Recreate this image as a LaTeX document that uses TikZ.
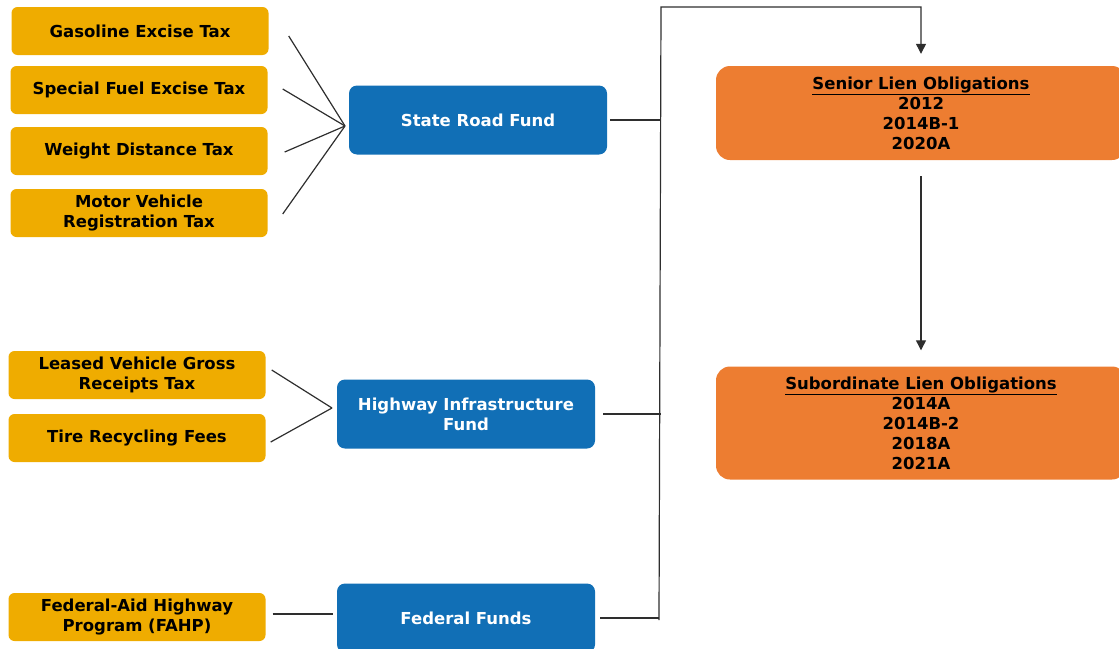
\documentclass[tikz,border=0pt]{standalone}
\usepackage{fontspec}
\setmainfont{DejaVu Sans}
\usetikzlibrary{arrows.meta,positioning}
\definecolor{taxgold}{HTML}{EFAC00}
\definecolor{fundblue}{HTML}{116FB6}
\definecolor{lienorange}{HTML}{ED7D31}
\definecolor{linegray}{HTML}{2E2E2E}

\begin{document}
\begin{tikzpicture}[x=1pt,y=-1pt,
			tax/.style={fill=taxgold,rounded corners=6pt,minimum width=257pt,minimum height=48pt,inner sep=0pt,align=center,font=\bfseries\fontsize{16.5}{20}\selectfont},
			fund/.style={fill=fundblue,rounded corners=8pt,minimum width=258pt,minimum height=69pt,inner sep=0pt,align=center,text=white,font=\bfseries\fontsize{16.5}{20}\selectfont},
			lien/.style={fill=lienorange,rounded corners=14pt,minimum width=410pt,inner sep=0pt,align=center,font=\bfseries\fontsize{16.5}{20}\selectfont},
			conn/.style={linegray,line width=1.2pt},
			arr/.style={conn,-{Triangle[length=10pt,width=10pt]}}
			]
			\useasboundingbox (0,0) rectangle (1119,648);
			\clip (0,0) rectangle (1119,648);
			% revenue sources
			\node[tax] (tax1) at (140,31) {Gasoline Excise Tax};
			\node[tax] (tax2) at (139,90) {Special Fuel Excise Tax};
			\node[tax] (tax3) at (139,151) {Weight Distance Tax};
			\node[tax] (tax4) at (139,213) {Motor Vehicle\\ Registration Tax};
			\node[tax] (tax5) at (137,375) {Leased Vehicle Gross\\ Receipts Tax};
			\node[tax] (tax6) at (137,438) {Tire Recycling Fees};
			\node[tax] (tax7) at (137,617) {Federal-Aid Highway\\ Program (FAHP)};
			% funds
			\node[fund] (srf) at (478,120) {State Road Fund};
			\node[fund] (hif) at (466,414) {Highway Infrastructure\\ Fund};
			\node[fund] (ff) at (466,618) {Federal Funds};
			% obligations
			\node[lien,minimum height=94pt] (senior) at (921,113) {\underline{Senior Lien Obligations}\\ 2012\\ 2014B-1\\ 2020A};
			\node[lien,minimum height=113pt] (sub) at (921,423) {\underline{Subordinate Lien Obligations}\\ 2014A\\ 2014B-2\\ 2018A\\ 2021A};
			% fan-in points and bus
			\coordinate (jsrf) at (345,126);
			\coordinate (jhif) at (332,408);
			\coordinate (bustop) at (661,7);
			\coordinate (busbot) at (659,620);
			\draw[conn] ([xshift=20pt,yshift=-5pt]tax1.east) -- (jsrf);
			\draw[conn] ([xshift=15pt,yshift=1pt]tax2.east) -- (jsrf);
			\draw[conn] ([xshift=17pt,yshift=-1pt]tax3.east) -- (jsrf);
			\draw[conn] ([xshift=15pt,yshift=-1pt]tax4.east) -- (jsrf);
			\draw[conn] ([xshift=6pt,yshift=5pt]tax5.east) -- (jhif);
			\draw[conn] ([xshift=5pt,yshift=-4pt]tax6.east) -- (jhif);
			\draw[conn] ([xshift=7pt,yshift=3pt]tax7.east) -- ([xshift=-4pt,yshift=4pt]ff.west);
			\draw[conn] ([xshift=3pt]srf.east) -- (srf.east -| bustop);
			\draw[conn] ([xshift=8pt]hif.east) -- (hif.east -| bustop);
			\draw[conn] ([xshift=5pt]ff.east) -- (ff.east -| busbot);
			\draw[arr] (busbot) -- (bustop) -| ([yshift=12pt]senior.north);
			\draw[arr] ([yshift=-16pt]senior.south) -- ([yshift=16pt]sub.north);
		\end{tikzpicture}
\end{document}
